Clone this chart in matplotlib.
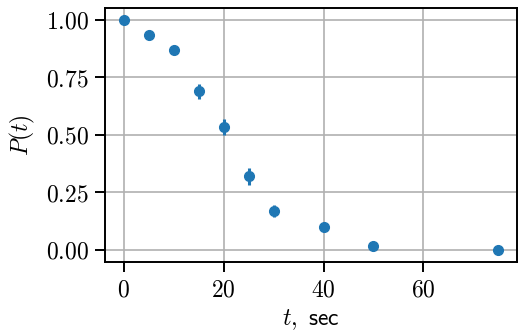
import matplotlib
matplotlib.use("Agg")
import matplotlib.pyplot as plt
from matplotlib.ticker import FuncFormatter

plt.rcParams["mathtext.fontset"] = "cm"
plt.rcParams["font.family"] = "serif"
plt.rcParams["font.serif"] = ["DejaVu Serif"]

# data
t = [0, 5, 10, 15, 20, 25, 30, 40, 50, 75]
p = [1.0, 0.935, 0.87, 0.688, 0.533, 0.318, 0.168, 0.098, 0.016, 0.0]
p_err = [0.0, 0.006, 0.008, 0.033, 0.033, 0.035, 0.027, 0.008, 0.006, 0.004]

fig = plt.figure(figsize=(5.18, 3.36), dpi=100)
ax = fig.add_axes([0.203, 0.22, 0.795, 0.756])

ax.errorbar(t, p, yerr=p_err, fmt="o", color="#1f77b4", ms=7, elinewidth=2.2, capsize=0, zorder=3)

ax.grid(True, color="#b0b0b0", lw=1.2)
ax.set_axisbelow(True)
for s in ax.spines.values():
    s.set_linewidth(1.4)
    s.set_color("black")
ax.tick_params(length=7, width=1.4, labelsize=17, pad=5)

ax.set_xticks([0, 20, 40, 60])
ax.set_yticks([0.0, 0.25, 0.5, 0.75, 1.0])
ax.xaxis.set_major_formatter(FuncFormatter(lambda v, pos: "$%d$" % v))
ax.yaxis.set_major_formatter(FuncFormatter(lambda v, pos: "$%.2f$" % v))

ax.set_xlabel(r"$t,\ \mathsf{sec}$", fontsize=17, labelpad=4)
ax.set_ylabel(r"$P(t)$", fontsize=17, labelpad=6)

fig.savefig("out.png", dpi=100)
